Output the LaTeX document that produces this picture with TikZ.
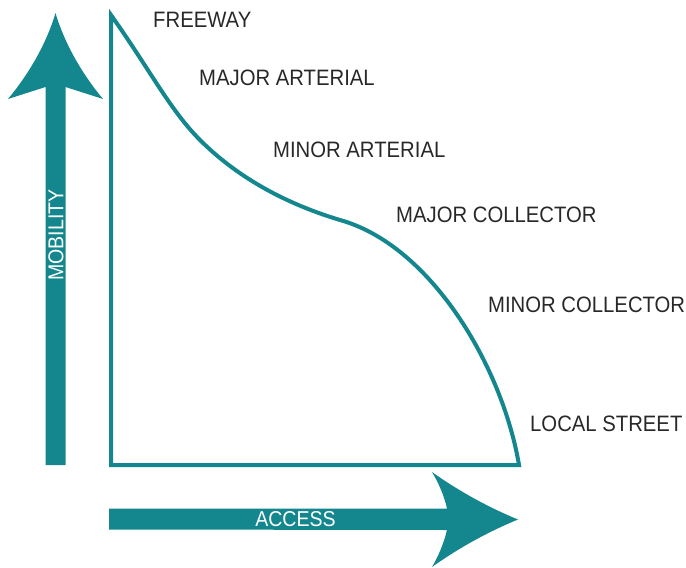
\documentclass[tikz,border=0pt]{standalone}
\usepackage{fontspec}
\newfontfamily\lblfont[FakeStretch=0.91]{Liberation Sans}
\definecolor{teal}{RGB}{19,134,142}
\definecolor{txt}{RGB}{40,40,40}
\tikzset{
  lbl/.style={anchor=base west, inner sep=0pt, text=txt, font=\lblfont\fontsize{22.3}{26}\selectfont},
  axislbl/.style={inner sep=0pt, text=white, font=\lblfont\fontsize{21.5}{26}\selectfont},
  curveline/.style={draw=teal, line width=4pt, line join=miter},
  bigarrow/.style={fill=teal, draw=none}
}
\begin{document}
\begin{tikzpicture}[x=1pt,y=-1pt]
\useasboundingbox (0,0) rectangle (686,568);
% vertical arrow (MOBILITY)
\path[bigarrow] (45.5,465) -- (45.5,87) -- (8,99)
  .. controls (28,75) and (46,45) .. (55.5,13)
  .. controls (65,45) and (83,75) .. (103,99)
  -- (65.5,87) -- (65.5,465) -- cycle;
% horizontal arrow (ACCESS)
\path[bigarrow] (109,508.5) -- (447,508.5)
  .. controls (444,495) and (438,482) .. (432,472)
  .. controls (460,492) and (490,508) .. (518,519.5)
  .. controls (490,531) and (460,547) .. (432,567)
  .. controls (438,557) and (444,543) .. (447,530)
  -- (109,529.5) -- cycle;
\node[axislbl, rotate=90] (mobility) at (56,235) {MOBILITY};
\node[axislbl] (access) at (295.5,519) {ACCESS};
% main curve shape
\draw[curveline] (111,465) -- (111,15)
  .. controls (150,70) and (170,110) .. (200,140)
  .. controls (240,180) and (290,205) .. (340,220)
  .. controls (430,245) and (502,365) .. (519,465)
  -- cycle;
% labels
\node[lbl] (freeway) at (153,27.5) {FREEWAY};
\node[lbl] (majart) at (199,85) {MAJOR ARTERIAL};
\node[lbl] (minart) at (273,157) {MINOR ARTERIAL};
\node[lbl] (majcol) at (396,222) {MAJOR COLLECTOR};
\node[lbl] (mincol) at (488,312) {MINOR COLLECTOR};
\node[lbl] (local) at (530,431) {LOCAL STREET};
\end{tikzpicture}
\end{document}
